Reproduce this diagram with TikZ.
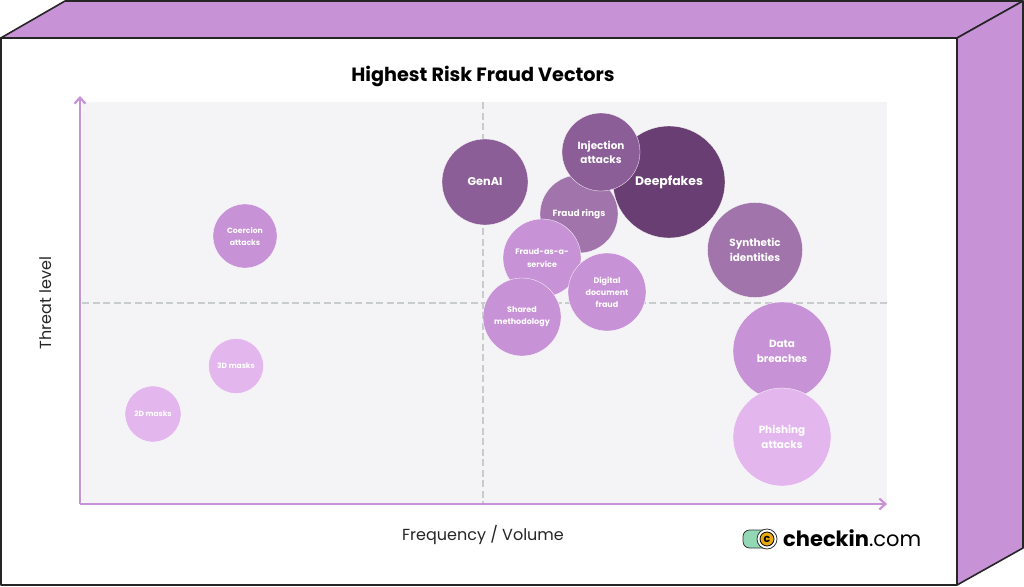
\documentclass[tikz,border=0pt]{standalone}
\usepackage{fontspec}
\setmainfont{Poppins}
\usepackage{tikz}
\usetikzlibrary{arrows.meta}
\definecolor{boxpurple}{HTML}{C792D6}
\definecolor{plotgray}{HTML}{F4F4F7}
\definecolor{dashgray}{HTML}{C8CCCC}
\definecolor{dark}{HTML}{693F73}
\definecolor{mid}{HTML}{8C5E98}
\definecolor{soft}{HTML}{A175AB}
\definecolor{pale}{HTML}{E3B7EE}
\definecolor{pillgreen}{HTML}{93D8B4}
\definecolor{coinyellow}{HTML}{E8A90C}
\tikzset{
  bubble/.style={circle, draw=white, line width=0.3pt, text=white, align=center, inner sep=0pt},
  face/.style={draw=black!85, line width=1.6pt, line join=round},
  axis/.style={draw=boxpurple, line width=2.2pt, -{Straight Barb[length=6pt, width=11pt, line width=2.2pt]}},
  guide/.style={draw=dashgray, line width=1.3pt, dash pattern=on 7pt off 3.5pt},
}
\begin{document}
\begin{tikzpicture}
\useasboundingbox (0pt, 0pt) rectangle (1024pt, -586pt);
\fill [white] (0pt, 0pt) rectangle (1024pt, -586pt);
% box
\draw [face, fill=boxpurple] (0.8pt, -38pt) -- (65pt, -1pt) -- (1023pt, -1pt) -- (957pt, -38pt) -- cycle;
\draw [face, fill=boxpurple] (957pt, -38pt) -- (1023pt, -1pt) -- (1023pt, -548pt) -- (957pt, -585pt) -- cycle;
\draw [face, fill=white] (0.8pt, -38pt) rectangle (957pt, -585pt);
\node (title) [font=\bfseries\fontsize{19.2}{23}\selectfont, text=black] at (483pt, -76pt) {Highest Risk Fraud Vectors};
% plot
\fill [plotgray] (82pt, -102pt) rectangle (887pt, -505pt);
\coordinate (origin) at (80pt, -504pt);
\coordinate (ytip) at (80pt, -96pt);
\coordinate (xtip) at (887pt, -504pt);
\coordinate (vtop) at (483pt, -102pt);
\coordinate (vbot) at (483pt, -504pt);
\coordinate (hleft) at (82pt, -303pt);
\coordinate (hright) at (887pt, -303pt);
\draw [guide] (vtop) -- (vbot);
\draw [guide] (hleft) -- (hright);
\draw [axis] (origin) -- (ytip);
\draw [axis] (origin) -- (xtip);
\node (ylabel) [rotate=90, font=\fontsize{16}{19}\selectfont, text=black!85] at (46pt, -303pt) {Threat level};
\node (xlabel) [font=\fontsize{16}{19}\selectfont, text=black!85] at (483pt, -535pt) {Frequency / Volume};
% bubbles
\node (deepfakes) [bubble, minimum size=112pt, fill=dark, font=\bfseries\fontsize{12.4}{14}\selectfont] at (669pt, -182pt) {Deepfakes};
\node (rings) [bubble, minimum size=78pt, fill=soft, font=\bfseries\fontsize{9}{13}\selectfont] at (579pt, -214pt) {Fraud rings};
\node (injection) [bubble, minimum size=78pt, fill=mid, font=\bfseries\fontsize{10.4}{14}\selectfont] at (601pt, -152pt) {Injection\\attacks};
\node (genai) [bubble, minimum size=86pt, fill=mid, font=\bfseries\fontsize{11.3}{14}\selectfont] at (485pt, -182pt) {GenAI};
\node (service) [bubble, minimum size=78pt, fill=boxpurple, font=\bfseries\fontsize{8}{13}\selectfont] at (542pt, -258pt) {Fraud-as-a-\\service};
\node (digital) [bubble, minimum size=78pt, fill=boxpurple, font=\bfseries\fontsize{8}{12}\selectfont] at (607pt, -292pt) {Digital\\document\\fraud};
\node (shared) [bubble, minimum size=78pt, fill=boxpurple, font=\bfseries\fontsize{8}{12}\selectfont] at (522pt, -317pt) {Shared\\methodology};
\node (synthetic) [bubble, minimum size=95pt, fill=soft, font=\bfseries\fontsize{10.4}{15}\selectfont] at (755pt, -250pt) {Synthetic\\identities};
\node (breaches) [bubble, minimum size=98pt, fill=boxpurple, font=\bfseries\fontsize{10.4}{15}\selectfont] at (782pt, -351pt) {Data\\breaches};
\node (phishing) [bubble, minimum size=98pt, fill=pale, font=\bfseries\fontsize{10.4}{15}\selectfont] at (782pt, -437pt) {Phishing\\attacks};
\node (coercion) [bubble, minimum size=64pt, fill=boxpurple, font=\bfseries\fontsize{7.7}{12}\selectfont] at (245pt, -236pt) {Coercion\\attacks};
\node (masks3d) [bubble, minimum size=55pt, fill=pale, font=\bfseries\fontsize{7.5}{10}\selectfont] at (236pt, -366pt) {3D masks};
\node (masks2d) [bubble, minimum size=56pt, fill=pale, font=\bfseries\fontsize{7.5}{10}\selectfont] at (153pt, -414pt) {2D masks};
% logo
\draw [black!80, line width=0.8pt, fill=pillgreen, rounded corners=6.5pt] (743pt, -530pt) rectangle (772pt, -548pt);
\node (coin) [circle, minimum size=20pt, fill=white, draw=black!80, line width=0.8pt, inner sep=0pt] at (767pt, -539pt) {};
\node (coinface) [circle, minimum size=14pt, fill=coinyellow, draw=black, line width=0.8pt, inner sep=0pt, font=\bfseries\fontsize{11}{11}\selectfont, text=black] at (767pt, -539pt) {c};
\node (brand) [anchor=west, inner sep=0pt, font=\fontsize{21}{25}\selectfont, text=black] at (783pt, -538pt) {\textbf{checkin}.com};
\end{tikzpicture}
\end{document}
